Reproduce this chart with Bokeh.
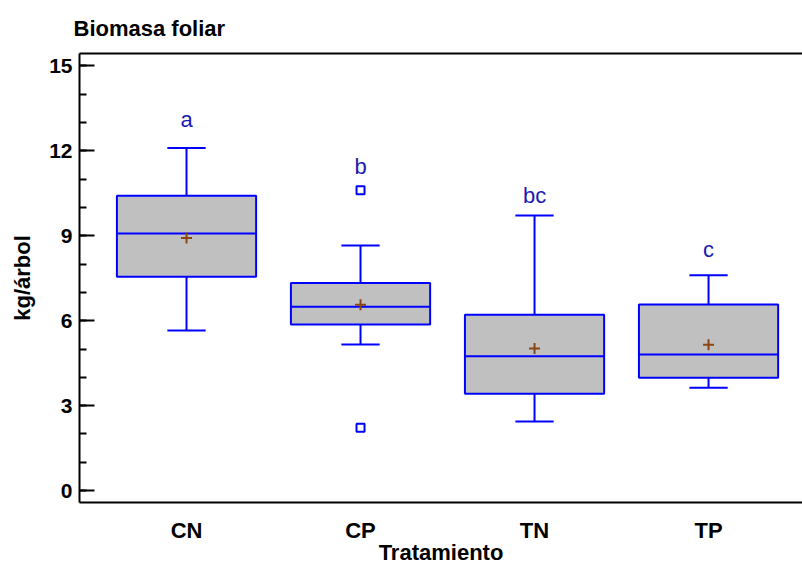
from bokeh.plotting import figure
from bokeh.models import Range1d, FixedTicker, LinearAxis
from bokeh.embed import file_html
from bokeh.resources import INLINE

# ---- data ----
categories = ["CN", "CP", "TN", "TP"]
q1 = [7.55, 5.87, 3.42, 3.98]
median = [9.08, 6.49, 4.74, 4.81]
q3 = [10.41, 7.33, 6.21, 6.57]
lower = [5.65, 5.16, 2.44, 3.63]
upper = [12.10, 8.66, 9.72, 7.61]
mean = [8.92, 6.56, 5.02, 5.15]
outlier_cat = ["CP", "CP"]
outlier_val = [10.61, 2.22]
group_letters = ["a", "b", "bc", "c"]
letter_y = [13.12, 11.44, 10.44, 8.52]
y_major = [0, 3, 6, 9, 12, 15]
y_minor = list(range(0, 16))

FONT = "Liberation Sans"
BLUE = "#0000ff"

xs = [i + 1 for i in range(len(categories))]
pos = dict(zip(categories, xs))
bw = 0.40
cw = 0.11

p = figure(width=802, height=567, output_backend="svg", toolbar_location=None,
           x_range=Range1d(0.385, 4.54), y_range=Range1d(-0.423, 15.44),
           x_axis_location=None, y_axis_location=None,
           min_border_left=79, min_border_right=0, min_border_top=52, min_border_bottom=65)
p.outline_line_color = None
p.background_fill_color = "white"
p.border_fill_color = "white"
p.grid.visible = False

# title
p.title.text = "Biomasa foliar"
p.title.align = "left"
p.title.offset = -6
p.title.standoff = 26
p.title.text_font = FONT
p.title.text_font_style = "bold"
p.title.text_font_size = "22px"
p.title.text_color = "black"

# left axis
yaxis = LinearAxis(ticker=FixedTicker(ticks=y_major, minor_ticks=y_minor),
                   axis_label="kg/árbol")
yaxis.axis_line_width = 2
yaxis.axis_line_color = "black"
yaxis.major_tick_in = 15
yaxis.major_tick_out = 0
yaxis.minor_tick_in = 7
yaxis.minor_tick_out = 0
yaxis.major_tick_line_width = 2
yaxis.minor_tick_line_width = 2
yaxis.major_label_standoff = 7
yaxis.major_label_text_font = FONT
yaxis.major_label_text_font_style = "bold"
yaxis.major_label_text_font_size = "21px"
yaxis.major_label_text_color = "black"
yaxis.axis_label_text_font = FONT
yaxis.axis_label_text_font_style = "bold"
yaxis.axis_label_text_font_size = "22px"
yaxis.axis_label_text_color = "black"
yaxis.axis_label_standoff = 11
p.add_layout(yaxis, "left")

# bottom axis
xaxis = LinearAxis(ticker=FixedTicker(ticks=xs),
                   major_label_overrides={x: c for x, c in zip(xs, categories)},
                   axis_label="Tratamiento")
xaxis.axis_line_width = 2
xaxis.axis_line_color = "black"
xaxis.major_tick_in = 0
xaxis.major_tick_out = 0
xaxis.minor_tick_in = 0
xaxis.minor_tick_out = 0
xaxis.major_label_standoff = 15
xaxis.major_label_text_font = FONT
xaxis.major_label_text_font_style = "bold"
xaxis.major_label_text_font_size = "22px"
xaxis.major_label_text_color = "black"
xaxis.axis_label_text_font = FONT
xaxis.axis_label_text_font_style = "bold"
xaxis.axis_label_text_font_size = "22px"
xaxis.axis_label_text_color = "black"
xaxis.axis_label_standoff = -6
p.add_layout(xaxis, "below")

# top frame line
taxis = LinearAxis(ticker=FixedTicker(ticks=[]))
taxis.axis_line_width = 2
taxis.axis_line_color = "black"
taxis.major_tick_in = 0
taxis.major_tick_out = 0
taxis.minor_tick_in = 0
taxis.minor_tick_out = 0
taxis.major_label_text_font_size = "0px"
taxis.major_label_standoff = 0
p.add_layout(taxis, "above")

# whiskers
p.segment(x0=xs, x1=xs, y0=q3, y1=upper, line_color=BLUE, line_width=2)
p.segment(x0=xs, x1=xs, y0=q1, y1=lower, line_color=BLUE, line_width=2)
p.segment(x0=[x - cw for x in xs], x1=[x + cw for x in xs], y0=upper, y1=upper,
          line_color=BLUE, line_width=2)
p.segment(x0=[x - cw for x in xs], x1=[x + cw for x in xs], y0=lower, y1=lower,
          line_color=BLUE, line_width=2)

# boxes
p.quad(left=[x - bw for x in xs], right=[x + bw for x in xs], top=q3, bottom=q1,
       fill_color="#c0c0c0", line_color=BLUE, line_width=2)
p.segment(x0=[x - bw for x in xs], x1=[x + bw for x in xs], y0=median, y1=median,
          line_color=BLUE, line_width=2)

# means
p.scatter(x=xs, y=mean, marker="cross", size=11, line_color="#8b4513", line_width=2)

# outliers
p.scatter(x=[pos[c] for c in outlier_cat], y=outlier_val, marker="square", size=8,
          fill_color="white", line_color=BLUE, line_width=2)

# group letters
p.text(x=xs, y=letter_y, text=group_letters, text_align="center",
       text_baseline="alphabetic", text_font_size="22px", text_color="#1a1ab0",
       text_font={"value": FONT})

open("out.html", "w").write(file_html(p, INLINE))
